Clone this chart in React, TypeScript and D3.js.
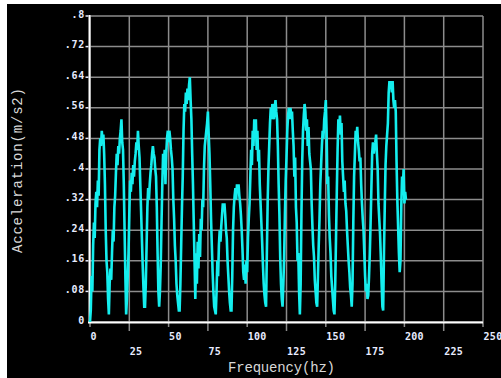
import React from "react";
import * as d3 from "d3";

// Spectrum sampling resolution (Hz between consecutive samples, starting at 0 Hz)
const FREQ_STEP = 0.5;

// Acceleration amplitude (m/s2) per frequency sample, 0 .. 201 Hz
const accel: number[] = [
  // 0 - 11.5 Hz
  0.0, 0.03, 0.12, 0.08, 0.2, 0.26, 0.22, 0.31, 0.34, 0.3, 0.37, 0.33, 0.45, 0.48, 0.46, 0.5, 0.47, 0.49, 0.44, 0.36, 0.24, 0.16, 0.13, 0.06,
  // 12 - 22.5 Hz
  0.02, 0.1, 0.14, 0.11, 0.18, 0.24, 0.21, 0.3, 0.33, 0.39, 0.44, 0.41, 0.46, 0.44, 0.48, 0.5, 0.53, 0.47, 0.45, 0.36, 0.24, 0.12,
  // 23 - 34.5 Hz
  0.02, 0.06, 0.12, 0.18, 0.28, 0.37, 0.34, 0.39, 0.36, 0.41, 0.38, 0.42, 0.44, 0.47, 0.45, 0.5, 0.46, 0.43, 0.36, 0.29, 0.22, 0.15, 0.09, 0.04,
  // 35 - 43.5 Hz
  0.04, 0.1, 0.2, 0.3, 0.35, 0.32, 0.36, 0.39, 0.41, 0.44, 0.46, 0.44, 0.43, 0.4, 0.38, 0.3, 0.18, 0.08,
  // 44 - 56.5 Hz
  0.04, 0.08, 0.15, 0.26, 0.36, 0.44, 0.4, 0.45, 0.36, 0.44, 0.48, 0.5, 0.47, 0.5, 0.48, 0.45, 0.43, 0.4, 0.32, 0.27, 0.2, 0.16, 0.1, 0.07, 0.05, 0.03,
  // 57 - 66.5 Hz
  0.03, 0.1, 0.2, 0.3, 0.38, 0.5, 0.57, 0.55, 0.6, 0.57, 0.61, 0.58, 0.62, 0.64, 0.58, 0.53, 0.44, 0.36, 0.26, 0.16,
  // 67 - 79.5 Hz
  0.06, 0.18, 0.1, 0.21, 0.14, 0.23, 0.17, 0.27, 0.24, 0.32, 0.3, 0.4, 0.46, 0.48, 0.5, 0.52, 0.55, 0.49, 0.44, 0.36, 0.27, 0.2, 0.13, 0.08, 0.04, 0.03,
  // 80 - 89.5 Hz
  0.02, 0.08, 0.16, 0.12, 0.2, 0.24, 0.21, 0.25, 0.28, 0.31, 0.29, 0.31, 0.28, 0.24, 0.22, 0.16, 0.12, 0.08, 0.05, 0.03,
  // 90 - 98.5 Hz
  0.03, 0.12, 0.24, 0.3, 0.33, 0.35, 0.32, 0.36, 0.34, 0.36, 0.33, 0.31, 0.28, 0.24, 0.19, 0.13, 0.11, 0.15,
  // 99 - 111.5 Hz
  0.1, 0.16, 0.13, 0.22, 0.27, 0.31, 0.38, 0.45, 0.41, 0.5, 0.46, 0.53, 0.49, 0.53, 0.45, 0.5, 0.42, 0.45, 0.36, 0.31, 0.26, 0.21, 0.15, 0.1, 0.07, 0.05,
  // 112 - 122.5 Hz
  0.04, 0.18, 0.31, 0.4, 0.46, 0.52, 0.56, 0.53, 0.57, 0.55, 0.53, 0.56, 0.58, 0.55, 0.53, 0.46, 0.36, 0.28, 0.17, 0.1, 0.06, 0.04,
  // 123 - 133.5 Hz
  0.1, 0.17, 0.28, 0.37, 0.43, 0.5, 0.54, 0.56, 0.53, 0.56, 0.54, 0.55, 0.5, 0.46, 0.38, 0.43, 0.3, 0.26, 0.16, 0.18, 0.08, 0.02,
  // 134 - 144 Hz
  0.1, 0.28, 0.42, 0.5, 0.54, 0.57, 0.55, 0.5, 0.53, 0.46, 0.51, 0.44, 0.42, 0.4, 0.31, 0.25, 0.2, 0.17, 0.11, 0.08, 0.05,
  // 144.5 - 155 Hz
  0.04, 0.12, 0.2, 0.27, 0.36, 0.41, 0.46, 0.5, 0.48, 0.53, 0.55, 0.58, 0.5, 0.36, 0.38, 0.28, 0.22, 0.18, 0.12, 0.09, 0.06, 0.03,
  // 155.5 - 166.5 Hz
  0.02, 0.1, 0.22, 0.34, 0.45, 0.53, 0.5, 0.54, 0.49, 0.52, 0.42, 0.38, 0.34, 0.37, 0.31, 0.29, 0.24, 0.2, 0.16, 0.13, 0.09, 0.07, 0.04,
  // 167 - 176.5 Hz
  0.1, 0.26, 0.38, 0.44, 0.5, 0.48, 0.51, 0.47, 0.45, 0.42, 0.43, 0.36, 0.31, 0.27, 0.24, 0.18, 0.12, 0.08, 0.1, 0.06,
  // 177 - 186 Hz
  0.07, 0.12, 0.18, 0.26, 0.35, 0.44, 0.47, 0.44, 0.46, 0.47, 0.49, 0.44, 0.4, 0.31, 0.27, 0.23, 0.17, 0.1, 0.04,
  // 186.5 - 201 Hz
  0.03, 0.18, 0.3, 0.41, 0.46, 0.49, 0.52, 0.6, 0.63, 0.61, 0.63, 0.6, 0.63, 0.58, 0.56, 0.58, 0.55, 0.42, 0.32, 0.25, 0.18, 0.13, 0.16, 0.3, 0.38, 0.35, 0.4, 0.31, 0.34, 0.32,
];

const xTicks = [0, 25, 50, 75, 100, 125, 150, 175, 200, 225, 250];
const xTickLabels = ["0", "25", "50", "75", "100", "125", "150", "175", "200", "225", "250"];
const yTicks = [0, 0.08, 0.16, 0.24, 0.32, 0.4, 0.48, 0.56, 0.64, 0.72, 0.8];
const yTickLabels = ["0", ".08", ".16", ".24", ".32", ".4", ".48", ".56", ".64", ".72", ".8"];
const xTitle = "Frequency(hz)";
const yTitle = "Acceleration(m/s2)";

const W = 501;
const H = 378;
const tickFont = "'DejaVu Sans Mono', monospace";
const titleFont = "'Liberation Mono', 'DejaVu Sans Mono', monospace";

export default function App() {
  const x = d3.scaleLinear().domain([0, 250]).range([90, 483]);
  const y = d3.scaleLinear().domain([0, 0.8]).range([322, 16]);

  const line = d3
    .line<number>()
    .x((_, i) => x(i * FREQ_STEP))
    .y((d) => y(d));

  const [x0, x1] = x.range();
  const [y0, y1] = y.range();

  return (
    <svg
      width={W}
      height={H}
      style={{ position: "absolute", left: 0, top: 0, display: "block" }}
    >
      <rect x={0} y={0} width={W} height={H} fill="#ffffff" />
      <rect x={7} y={4} width={W - 7} height={H - 4} fill="#000000" />

      {/* grid */}
      {yTicks.map((t) => (
        <line
          key={"gy" + t}
          x1={x0}
          x2={x1}
          y1={y(t)}
          y2={y(t)}
          stroke="#8c8c8c"
          strokeWidth={1.5}
        />
      ))}
      {xTicks.map((t, i) => (
        <line
          key={"gx" + t}
          x1={x(t)}
          x2={x(t)}
          y1={y1}
          y2={y0 + (i % 2 === 0 ? 5 : 9)}
          stroke="#8c8c8c"
          strokeWidth={1.5}
        />
      ))}

      {/* axes */}
      <line x1={x0 - 0.5} x2={x0 - 0.5} y1={y1 - 1} y2={y0 + 1} stroke="#ffffff" strokeWidth={2} />
      <line x1={x0 - 2} x2={x1} y1={y0 + 0.5} y2={y0 + 0.5} stroke="#ffffff" strokeWidth={2} />

      {/* y tick dashes and labels */}
      {yTicks.map((t, i) => (
        <g key={"yl" + t}>
          {i > 0 && (
            <line x1={85.5} x2={88.5} y1={y(t)} y2={y(t)} stroke="#e8ecff" strokeWidth={1.5} />
          )}
          <text
            x={85}
            y={y(t) + 1.5}
            textAnchor="end"
            fill="#e8ecff"
            fontFamily={tickFont}
            fontWeight="bold"
            fontSize={10}
            letterSpacing={0.7}
          >
            {yTickLabels[i]}
          </text>
        </g>
      ))}

      {/* x tick labels, staggered on two rows */}
      {xTicks.map((t, i) => (
        <text
          key={"xl" + t}
          x={x(t) + 0.5}
          y={i % 2 === 0 ? 340 : 355}
          textAnchor="start"
          fill="#e8ecff"
          fontFamily={tickFont}
          fontWeight="bold"
          fontSize={10}
          letterSpacing={0.3}
        >
          {xTickLabels[i]}
        </text>
      ))}

      {/* spectrum */}
      <path
        d={line(accel) ?? ""}
        fill="none"
        stroke="#14eeee"
        strokeWidth={2.6}
        strokeLinejoin="miter"
      />

      {/* axis titles */}
      <text
        x={228}
        y={372}
        fill="#d8d8d8"
        fontFamily={titleFont}
        fontSize={14}
        textLength={107}
        lengthAdjust="spacing"
      >
        {xTitle}
      </text>
      <text
        transform="translate(22,253) rotate(-90)"
        x={0}
        y={0}
        fill="#d8d8d8"
        fontFamily={titleFont}
        fontSize={14}
        textLength={165}
        lengthAdjust="spacing"
      >
        {yTitle}
      </text>
    </svg>
  );
}
